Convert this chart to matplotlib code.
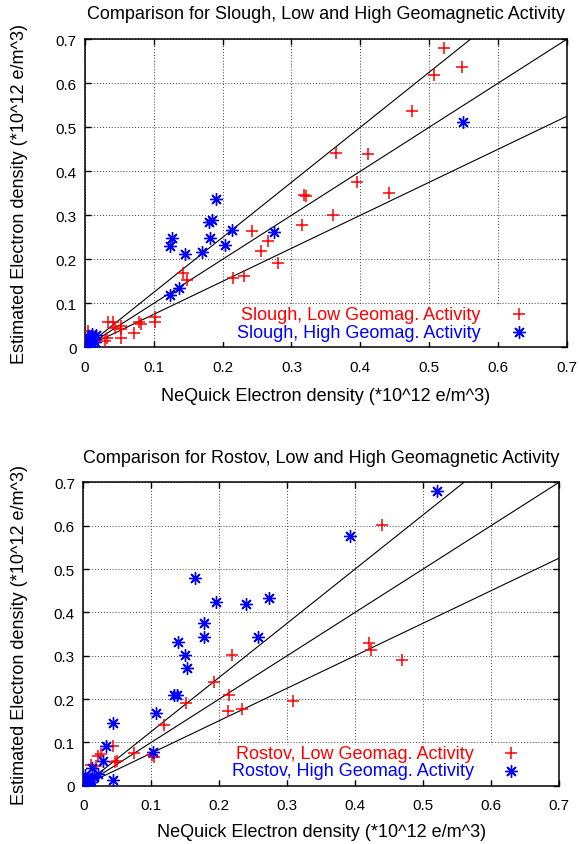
import matplotlib
matplotlib.use('Agg')
import matplotlib.pyplot as plt
from matplotlib.patches import Rectangle
from matplotlib.ticker import MultipleLocator, FormatStrFormatter

plt.rcParams['font.family'] = ['Liberation Sans', 'DejaVu Sans']

# reference lines y = k * x (equal and +/-25 %)
slopes = [0.75, 1.0, 1.25]

# Slough
slough_low_x = [0.005, 0.008, 0.012, 0.029, 0.032, 0.034, 0.040, 0.044, 0.052, 0.052,
                0.052, 0.071, 0.079, 0.081, 0.102, 0.101, 0.142, 0.148, 0.215, 0.231,
                0.243, 0.256, 0.266, 0.281, 0.315, 0.318, 0.321, 0.361, 0.365, 0.395,
                0.411, 0.442, 0.475, 0.507, 0.521, 0.548]
slough_low_y = [0.038, 0.020, 0.010, 0.014, 0.021, 0.058, 0.058, 0.045, 0.049, 0.042,
                0.021, 0.032, 0.057, 0.052, 0.068, 0.057, 0.170, 0.154, 0.158, 0.161,
                0.264, 0.220, 0.241, 0.191, 0.277, 0.346, 0.343, 0.300, 0.441, 0.375,
                0.439, 0.351, 0.536, 0.620, 0.680, 0.636]
slough_high_x = [0.003, 0.005, 0.006, 0.008, 0.010, 0.012, 0.014, 0.009, 0.016, 0.004,
                 0.124, 0.136, 0.123, 0.127, 0.145, 0.170, 0.182, 0.180, 0.184, 0.191,
                 0.203, 0.214, 0.275, 0.550]
slough_high_y = [0.002, 0.008, 0.015, 0.025, 0.030, 0.020, 0.012, 0.004, 0.028, 0.022,
                 0.119, 0.134, 0.231, 0.248, 0.211, 0.217, 0.248, 0.285, 0.290, 0.337,
                 0.232, 0.267, 0.261, 0.511]

# Rostov
rostov_low_x = [0.005, 0.008, 0.012, 0.018, 0.026, 0.022, 0.044, 0.049, 0.046, 0.074,
                0.101, 0.104, 0.119, 0.151, 0.193, 0.213, 0.215, 0.219, 0.234, 0.308,
                0.421, 0.424, 0.440, 0.469]
rostov_low_y = [0.010, 0.020, 0.048, 0.045, 0.073, 0.068, 0.091, 0.058, 0.055, 0.075,
                0.070, 0.066, 0.140, 0.191, 0.240, 0.173, 0.210, 0.302, 0.177, 0.196,
                0.329, 0.312, 0.602, 0.289]
rostov_high_x = [0.002, 0.004, 0.006, 0.008, 0.010, 0.012, 0.015, 0.003, 0.013, 0.022,
                 0.029, 0.033, 0.043, 0.044, 0.102, 0.107, 0.134, 0.138, 0.140, 0.150,
                 0.153, 0.165, 0.177, 0.177, 0.195, 0.240, 0.257, 0.273, 0.392, 0.521]
rostov_high_y = [0.002, 0.010, 0.018, 0.005, 0.015, 0.008, 0.020, 0.025, 0.041, 0.027,
                 0.058, 0.091, 0.145, 0.012, 0.077, 0.167, 0.209, 0.209, 0.332, 0.302,
                 0.271, 0.479, 0.375, 0.344, 0.425, 0.419, 0.343, 0.433, 0.577, 0.681]

star = (8, 2, 0)


def panel(ax, name, lx, ly, hx, hy):
    ax.set_xlim(0, 0.7)
    ax.set_ylim(0, 0.7)
    ax.xaxis.set_major_locator(MultipleLocator(0.1))
    ax.yaxis.set_major_locator(MultipleLocator(0.1))
    ax.xaxis.set_major_formatter(FormatStrFormatter('%g'))
    ax.yaxis.set_major_formatter(FormatStrFormatter('%g'))
    ax.tick_params(direction='in', top=True, right=True, length=4, width=1,
                   labelsize=11)
    ax.tick_params(axis='x', pad=9)
    ax.tick_params(axis='y', pad=6)
    ax.set_axisbelow(True)
    ax.grid(True, linestyle=(0, (1, 2)), color='0.25', lw=0.7)
    for s in ax.spines.values():
        s.set_linewidth(1.1)

    for k in slopes:
        ax.axline((0, 0), slope=k, color='black', lw=0.8, zorder=2)

    # opaque key area
    ax.add_patch(Rectangle((0.135, 0.013), 0.553, 0.080, facecolor='white',
                           edgecolor='none', zorder=1))

    ax.plot(lx, ly, ls='none', marker='+', ms=8, mew=1.1, color='red', zorder=3)
    ax.plot(hx, hy, ls='none', marker=star, ms=9, mew=1.0, color='blue', zorder=4)

    ax.text(0.575, 0.075, name + ', Low Geomag. Activity', color='red',
            ha='right', va='center', fontsize=13, zorder=5)
    ax.text(0.575, 0.034, name + ', High Geomag. Activity', color='blue',
            ha='right', va='center', fontsize=13, zorder=5)
    ax.plot([0.63], [0.075], marker='+', ms=8, mew=1.1, color='red', zorder=5)
    ax.plot([0.63], [0.034], marker=star, ms=9, mew=1.0, color='blue', zorder=5)


fig = plt.figure(figsize=(5.79, 8.45), dpi=100)
ax1 = fig.add_axes([0.1468, 0.5878, 0.8320, 0.3645])
ax2 = fig.add_axes([0.1439, 0.0690, 0.8216, 0.3590])

panel(ax1, 'Slough', slough_low_x, slough_low_y, slough_high_x, slough_high_y)
panel(ax2, 'Rostov', rostov_low_x, rostov_low_y, rostov_high_x, rostov_high_y)

xlab = 'NeQuick Electron density (*10^12 e/m^3)'
ylab = 'Estimated Electron density (*10^12 e/m^3)'

fig.text(0.5627, 0.9772, 'Comparison for Slough, Low and High Geomagnetic Activity',
         ha='center', va='baseline', fontsize=13)
fig.text(0.5627, 0.5250, xlab, ha='center', va='baseline', fontsize=13)
fig.text(0.0345, 0.7704, ylab, ha='center', va='center', rotation=90, fontsize=13)

fig.text(0.5547, 0.4517, 'Comparison for Rostov, Low and High Geomagnetic Activity',
         ha='center', va='baseline', fontsize=13)
fig.text(0.5547, 0.0098, xlab, ha='center', va='baseline', fontsize=13)
fig.text(0.0345, 0.2485, ylab, ha='center', va='center', rotation=90, fontsize=13)

fig.savefig('out.png', dpi=100)
